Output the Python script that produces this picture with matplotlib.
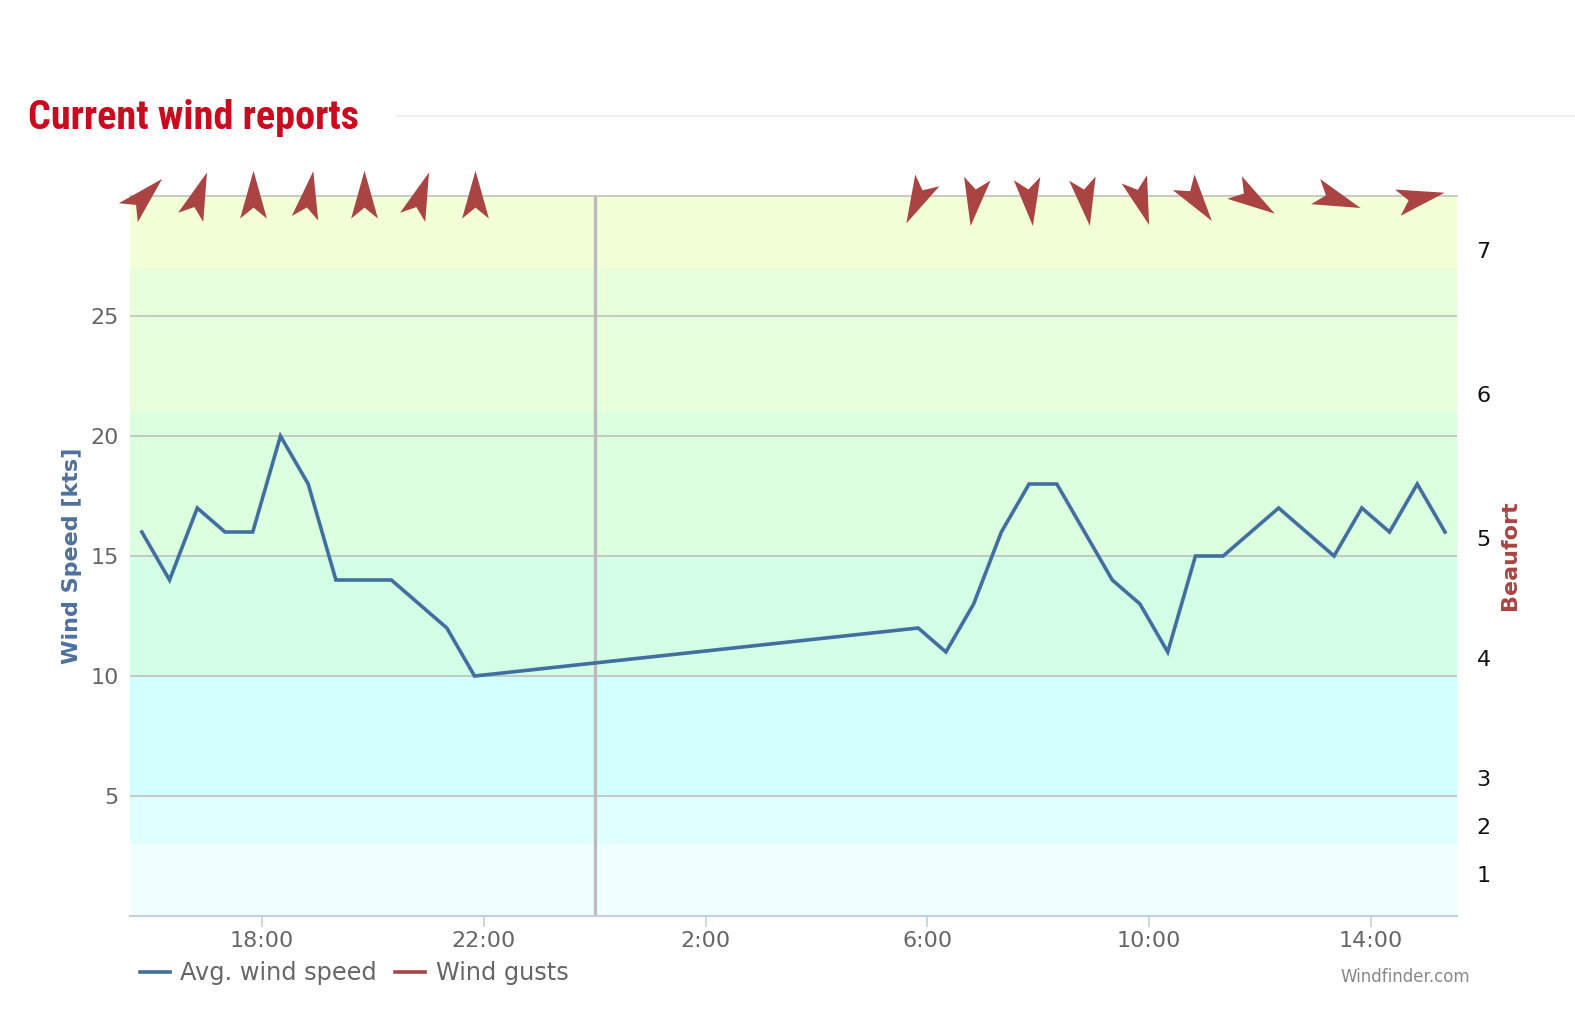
import matplotlib.pyplot as plt
from matplotlib.path import Path
from matplotlib.markers import MarkerStyle
from matplotlib.transforms import Affine2D
from matplotlib.lines import Line2D

# report times (30 min steps), day rolls over after midnight
times = ["15:50", "16:20", "16:50", "17:20", "17:50", "18:20", "18:50", "19:20",
         "19:50", "20:20", "20:50", "21:20", "21:50",
         "5:50", "6:20", "6:50", "7:20", "7:50", "8:20", "8:50", "9:20", "9:50",
         "10:20", "10:50", "11:20", "11:50", "12:20", "12:50", "13:20", "13:50",
         "14:20", "14:50", "15:20"]
avg_speed = [16, 14, 17, 16, 16, 20, 18, 14, 14, 14, 13, 12, 10,
             12, 11, 13, 16, 18, 18, 16, 14, 13, 11, 15, 15, 16, 17, 16, 15,
             17, 16, 18, 16]
gust_times = []
gust_speed = []

# wind direction arrows (heading, degrees clockwise from up)
arrow_times = ["15:50", "16:50", "17:50", "18:50", "19:50", "20:50", "21:50",
               "5:50", "6:50", "7:50", "8:50", "9:50", "10:50", "11:50", "13:20", "14:50"]
arrow_dirs = [45, 20, 0, 10, 0, 20, 0, 206, 188, 173, 171, 162, 144, 123, 110, 78]

tick_hours = [18, 22, 26, 30, 34, 38]
tick_labels = ["18:00", "22:00", "2:00", "6:00", "10:00", "14:00"]

beaufort_pos = [1.75, 3.75, 5.75, 10.75, 15.75, 21.75, 27.75]
beaufort_labels = ["1", "2", "3", "4", "5", "6", "7"]

band_edges = [0, 3, 5, 10, 15, 21, 27, 30]
band_colors = ["#f0ffff", "#e0ffff", "#d2ffff", "#d2ffe6", "#dcffe0", "#e8ffdc", "#f3ffd6"]


def to_hours(tlist):
    out = []
    day = 0
    prev = -1
    for t in tlist:
        h, m = t.split(":")
        v = int(h) + int(m) / 60
        if v < prev:
            day += 24
        prev = v
        out.append(v + day)
    return out


x = to_hours(times)
xa = to_hours(arrow_times)

blue = "#416fa0"
red = "#a94442"

fig = plt.figure(figsize=(15.75, 10.29), dpi=100)
ax = fig.add_axes([130 / 1575, 113 / 1029, 1327 / 1575, 720 / 1029])

for i, c in enumerate(band_colors):
    ax.axhspan(band_edges[i], band_edges[i + 1], color=c, lw=0, zorder=0)

ax.set_xlim(15.62, 39.55)
ax.set_ylim(0, 30)
ax.set_yticks([5, 10, 15, 20, 25])
ax.grid(axis="y", color="#bbbbbb", lw=1.1, zorder=1)
ax.axvline(24, color="#bbbbbb", lw=2.4, zorder=1)

ax.plot(x, avg_speed, color=blue, lw=2.6, zorder=3, solid_joinstyle="miter")
ax.plot(gust_times, gust_speed, color=red, lw=2.6, zorder=3)

# arrow marker pointing up, pivot a bit behind the middle
arrow = Path([(0, 0.58), (0.28, -0.42), (0, -0.19), (-0.28, -0.42), (0, 0.58)],
             [Path.MOVETO, Path.LINETO, Path.LINETO, Path.LINETO, Path.CLOSEPOLY])
for xi, d in zip(xa, arrow_dirs):
    m = MarkerStyle(arrow, transform=Affine2D().rotate_deg(-d))
    ax.plot([xi], [29.92], marker=m, markersize=40, color=red, mew=0,
            linestyle="none", clip_on=False, zorder=5)

ax.set_xticks(tick_hours)
ax.set_xticklabels(tick_labels)
ax.tick_params(axis="x", colors="#c0d0e0", length=8, width=1.2, labelsize=16,
               labelcolor="#666666", pad=3)
ax.tick_params(axis="y", length=0, labelsize=16, labelcolor="#666666", pad=8)
for s in ["left", "right"]:
    ax.spines[s].set_visible(False)
ax.spines["top"].set_color("#bbbbbb")
ax.spines["top"].set_linewidth(1.1)
ax.spines["bottom"].set_color("#c0d0e0")
ax.spines["bottom"].set_linewidth(1.5)

ax2 = ax.twinx()
ax2.set_ylim(0, 30)
ax2.set_yticks(beaufort_pos)
ax2.set_yticklabels(beaufort_labels)
ax2.tick_params(axis="y", length=0, labelsize=16, labelcolor="#111111", pad=14)
for s in ax2.spines.values():
    s.set_visible(False)

fig.text(72 / 1575, 1 - 556 / 1029, "Wind Speed [kts]", rotation=90, ha="center",
         va="center", fontsize=16, fontweight="bold", color="#4d709d")
fig.text(1510 / 1575, 1 - 555 / 1029, "Beaufort", rotation=90, ha="center",
         va="center", fontsize=16, fontweight="bold", color=red)

fig.text(28 / 1575, 1 - 118 / 1029, "Current wind reports",
         family=["Roboto Condensed", "Liberation Sans Narrow", "Roboto"],
         fontweight="bold", fontsize=29, color="#cc0a1e", va="center")
fig.add_artist(Line2D([397 / 1575, 1], [1 - 116 / 1029, 1 - 116 / 1029],
                      color="#eeeeee", lw=1.5, transform=fig.transFigure))

handles = [Line2D([], [], color=blue, lw=2.6), Line2D([], [], color=red, lw=2.6)]
fig.legend(handles, ["Avg. wind speed", "Wind gusts"], loc="center left",
           bbox_to_anchor=(118 / 1575, 1 - 973 / 1029), frameon=False, ncol=2,
           fontsize=17.3, labelcolor="#666666", handlelength=1.25, handletextpad=0.45,
           columnspacing=0.75)

fig.text(1405 / 1575, 1 - 977 / 1029, "Windfinder.com", ha="center", va="center",
         fontsize=12, color="#888888")

fig.savefig("out.png", dpi=100)
